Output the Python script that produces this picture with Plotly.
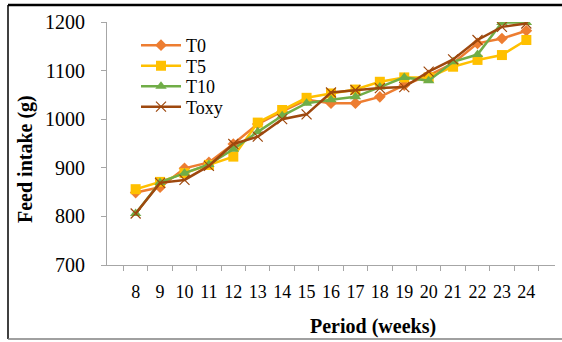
import plotly.graph_objects as go

weeks = [str(w) for w in range(8, 25)]
t0 = [849, 860, 899, 911, 949, 990, 1016, 1040, 1033, 1033, 1046, 1070, 1090, 1115, 1156, 1166, 1182]
t5 = [856, 871, 889, 906, 923, 993, 1019, 1044, 1053, 1061, 1077, 1086, 1086, 1108, 1122, 1132, 1163]
t10 = [806, 870, 889, 907, 938, 974, 1007, 1033, 1040, 1046, 1066, 1086, 1079, 1118, 1133, 1199, 1199]
toxy = [806, 869, 875, 904, 949, 964, 1000, 1010, 1055, 1060, 1064, 1066, 1098, 1123, 1163, 1190, 1197]
series_names = ["T0", "T5", "T10", "Toxy"]

serif = "Liberation Serif"
PL, PR, PT, PB = 107, 555, 22, 265  # plot area in px
W, H = 562, 342


def px_x(p):
    return (p - PL) / (PR - PL)


def px_y(p):
    return (PB - p) / (PB - PT)


fig = go.Figure()
styles = [
    dict(line=dict(color="#ED7D31", width=2.5), marker=dict(symbol="diamond", size=9, color="#ED7D31")),
    dict(line=dict(color="#FFC000", width=2.5), marker=dict(symbol="square", size=10, color="#FFC000")),
    dict(line=dict(color="#70AD47", width=2.5), marker=dict(symbol="triangle-up", size=10, color="#70AD47")),
    dict(line=dict(color="#9E480E", width=2.5),
         marker=dict(symbol="x-thin-open", size=10, line=dict(color="rgba(190,120,80,0.6)", width=1.2))),
]
legend_ids = ["legend", "legend2", "legend3", "legend4"]
for name, vals, st, lg in zip(series_names, [t0, t5, t10, toxy], styles, legend_ids):
    fig.add_trace(go.Scatter(x=weeks, y=vals, name=name, mode="lines+markers", legend=lg, **st))

legend_centers = [45.5, 66.0, 86.5, 107.0]
layout_legends = {}
for lg, cy in zip(legend_ids, legend_centers):
    layout_legends[lg] = dict(x=px_x(136), y=px_y(cy), xanchor="left", yanchor="middle",
                              bgcolor="rgba(0,0,0,0)", font=dict(family=serif, size=18, color="black"),
                              itemwidth=40, borderwidth=0)

fig.update_layout(
    width=W, height=H,
    margin=dict(l=PL, r=W - PR, t=PT, b=H - PB),
    paper_bgcolor="white", plot_bgcolor="white",
    font=dict(family=serif, size=16, color="black"),
    showlegend=True,
    xaxis=dict(type="category", tickson="boundaries", ticks="outside", ticklen=5, tickangle=0,
               tickcolor="#A6A6A6", showline=True, linecolor="#A6A6A6", linewidth=1,
               showgrid=False, tickfont=dict(family=serif, size=18),
               ticklabelstandoff=10),
    yaxis=dict(range=[700, 1200], dtick=100, ticks="outside", ticklen=5,
               tickcolor="#A6A6A6", showline=True, linecolor="#A6A6A6", linewidth=1,
               showgrid=False, zeroline=False, tickfont=dict(family=serif, size=20),
               ticklabelstandoff=12),
    **layout_legends,
)

fig.add_annotation(text="<b>Period (weeks)</b>", xref="paper", yref="paper",
                   x=px_x(373), y=px_y(326), xanchor="center", yanchor="middle",
                   showarrow=False, font=dict(family=serif, size=20, color="black"))
fig.add_annotation(text="<b>Feed intake (g)</b>", xref="paper", yref="paper",
                   x=px_x(25), y=px_y(159), xanchor="center", yanchor="middle", textangle=-90,
                   showarrow=False, font=dict(family=serif, size=20, color="black"))

x0 = px_x(8)
x1 = px_x(562)
ytop = px_y(5)
ybot = px_y(339)
fig.add_shape(type="line", xref="paper", yref="paper", x0=x0, x1=x1, y0=ytop, y1=ytop,
              line=dict(color="black", width=2.5))
fig.add_shape(type="line", xref="paper", yref="paper", x0=x0, x1=x0, y0=ytop, y1=ybot,
              line=dict(color="black", width=1.5))
fig.add_shape(type="line", xref="paper", yref="paper", x0=x0, x1=x1, y0=ybot, y1=ybot,
              line=dict(color="#808080", width=1.5))

fig.write_html("out.html")
